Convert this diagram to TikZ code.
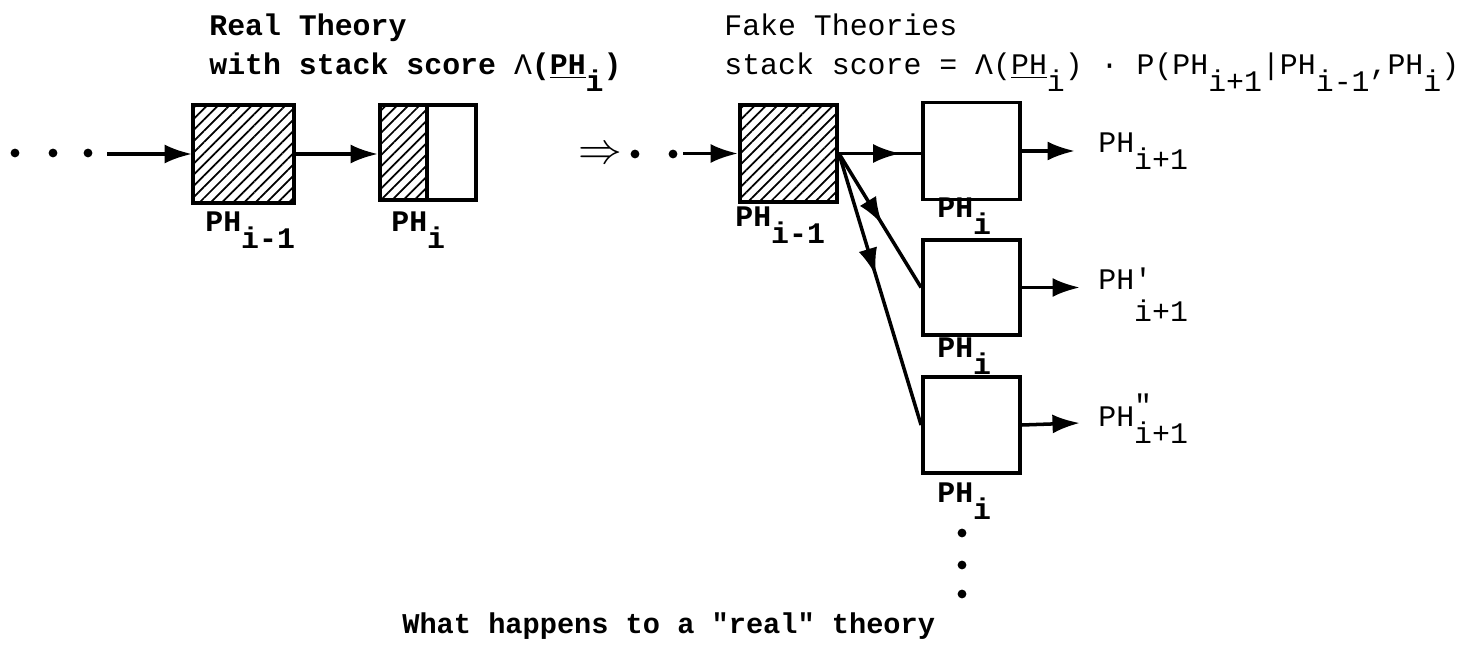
\documentclass[tikz,border=0pt]{standalone}
\usepackage{fontspec}
\setmonofont{Liberation Mono}
\usetikzlibrary{arrows.meta,patterns.meta,decorations.markings,calc}
\newcommand{\lo}[1]{\raisebox{-0.55em}{#1}}

\begin{document}
\begin{tikzpicture}[x=0.02cm, y=-0.02cm,
    font=\ttfamily\fontsize{17}{20}\selectfont,
    theory/.style={rectangle, draw, line width=2.2pt, inner sep=0pt},
    hatched/.style={pattern={Lines[angle=45, distance=4.5pt, line width=1pt]}},
    line/.style={draw, line width=2pt, -{Latex[length=0.55cm, width=0.38cm]}},
    midline/.style={draw, line width=2pt, postaction={decorate},
        decoration={markings, mark=at position #1 with {\arrow{Latex[length=0.55cm, width=0.38cm]}}}},
    lbl/.style={anchor=base west, inner sep=0pt},
    dot/.style={circle, fill, inner sep=0pt, minimum size=5pt}
    ]
    \useasboundingbox (0,0) rectangle (1465,648);

    % Nodes
    \node [theory, hatched, minimum width=2.02cm, minimum height=1.96cm] (realprev) at (243.5,154) {};
    \node [theory, minimum width=1.92cm, minimum height=1.9cm] (realcur) at (428,152.5) {};
    \node [theory, hatched, minimum width=1.94cm, minimum height=1.94cm] (fakeprev) at (788.5,153.5) {};
    \node [theory, minimum width=1.94cm, minimum height=1.94cm] (fakeA) at (971.5,151) {};
    \node [theory, minimum width=1.94cm, minimum height=1.9cm] (fakeB) at (971.5,287.5) {};
    \node [theory, minimum width=1.94cm, minimum height=1.92cm] (fakeC) at (971.5,425) {};
    \fill [hatched] (realcur.north west) rectangle ($(realcur.south west)+(49,0)$);
    \draw [line width=2.2pt] ($(realcur.north west)+(49,0)$) -- ($(realcur.south west)+(49,0)$);

    \node (implies) at (600,155) {\fontsize{26}{30}\selectfont$\Rightarrow$};
    \foreach \x [count=\k] in {15,53,88} \node [dot] (lead\k) at (\x,153) {};
    \foreach \x [count=\k] in {635,673} \node [dot] (mid\k) at (\x,154) {};
    \foreach \y [count=\k] in {533,565,594} \node [dot] (more\k) at (962,\y) {};

    \coordinate (leadend) at (107,154);
    \coordinate (midend) at (683,153.5);
    \coordinate (outA) at (1075,151);
    \coordinate (outB) at (1080,287.5);
    \coordinate (outC) at (1080,423);

    % Paths
    \draw [line] (leadend) -- (realprev.west);
    \draw [line] (realprev.east) -- (realprev.east -| realcur.west);
    \draw [line] (midend) -- (fakeprev.west);
    \draw [midline=0.75] (fakeprev.east) -- (fakeprev.east -| fakeA.west);
    \draw [midline=0.53] (fakeprev.east) -- (fakeB.west);
    \draw [midline=0.45] (fakeprev.east) -- (fakeC.west);
    \draw [line] (fakeA.east) -- (outA);
    \draw [line] (fakeB.east) -- (outB);
    \draw [line] (fakeC.east) -- (outC);

    % Annotations
    \node [lbl] (realtitle) at (209,36) {\bfseries Real Theory};
    \node [lbl] (realscore) at (209,75) {\bfseries with stack score {\mdseries Λ}(\underline{PH}\lo{i})};
    \node [lbl] (faketitle) at (724,36) {Fake Theories};
    \node [lbl] (fakescore) at (724,75) {stack score = Λ(\underline{PH}\lo{i}) · P(PH\lo{i+1}|PH\lo{i-1},PH\lo{i})};

    \node [lbl] (realprevlbl) at (205,232) {\bfseries PH\lo{i-1}};
    \node [lbl] (realcurlbl) at (391,232) {\bfseries PH\lo{i}};
    \node [lbl] (fakeprevlbl) at (735,227) {\bfseries PH\lo{i-1}};
    \node [lbl] (fakeAlbl) at (937,218) {\bfseries PH\lo{i}};
    \node [lbl] (fakeBlbl) at (937,358) {\bfseries PH\lo{i}};
    \node [lbl] (fakeClbl) at (937,503) {\bfseries PH\lo{i}};

    \node [lbl] (nextA) at (1098,153) {PH\lo{i+1}};
    \node [lbl] (nextB) at (1098,290) {PH\rlap{'}\raisebox{-1.07em}{i+1}};
    \node [lbl] (nextC) at (1098,427) {PH\rlap{\raisebox{0.4em}{"}}\lo{i+1}};

    \node [lbl] (caption) at (402,634) {\fontsize{16.3}{20}\selectfont\bfseries What happens to a "real" theory};
\end{tikzpicture}
\end{document}
